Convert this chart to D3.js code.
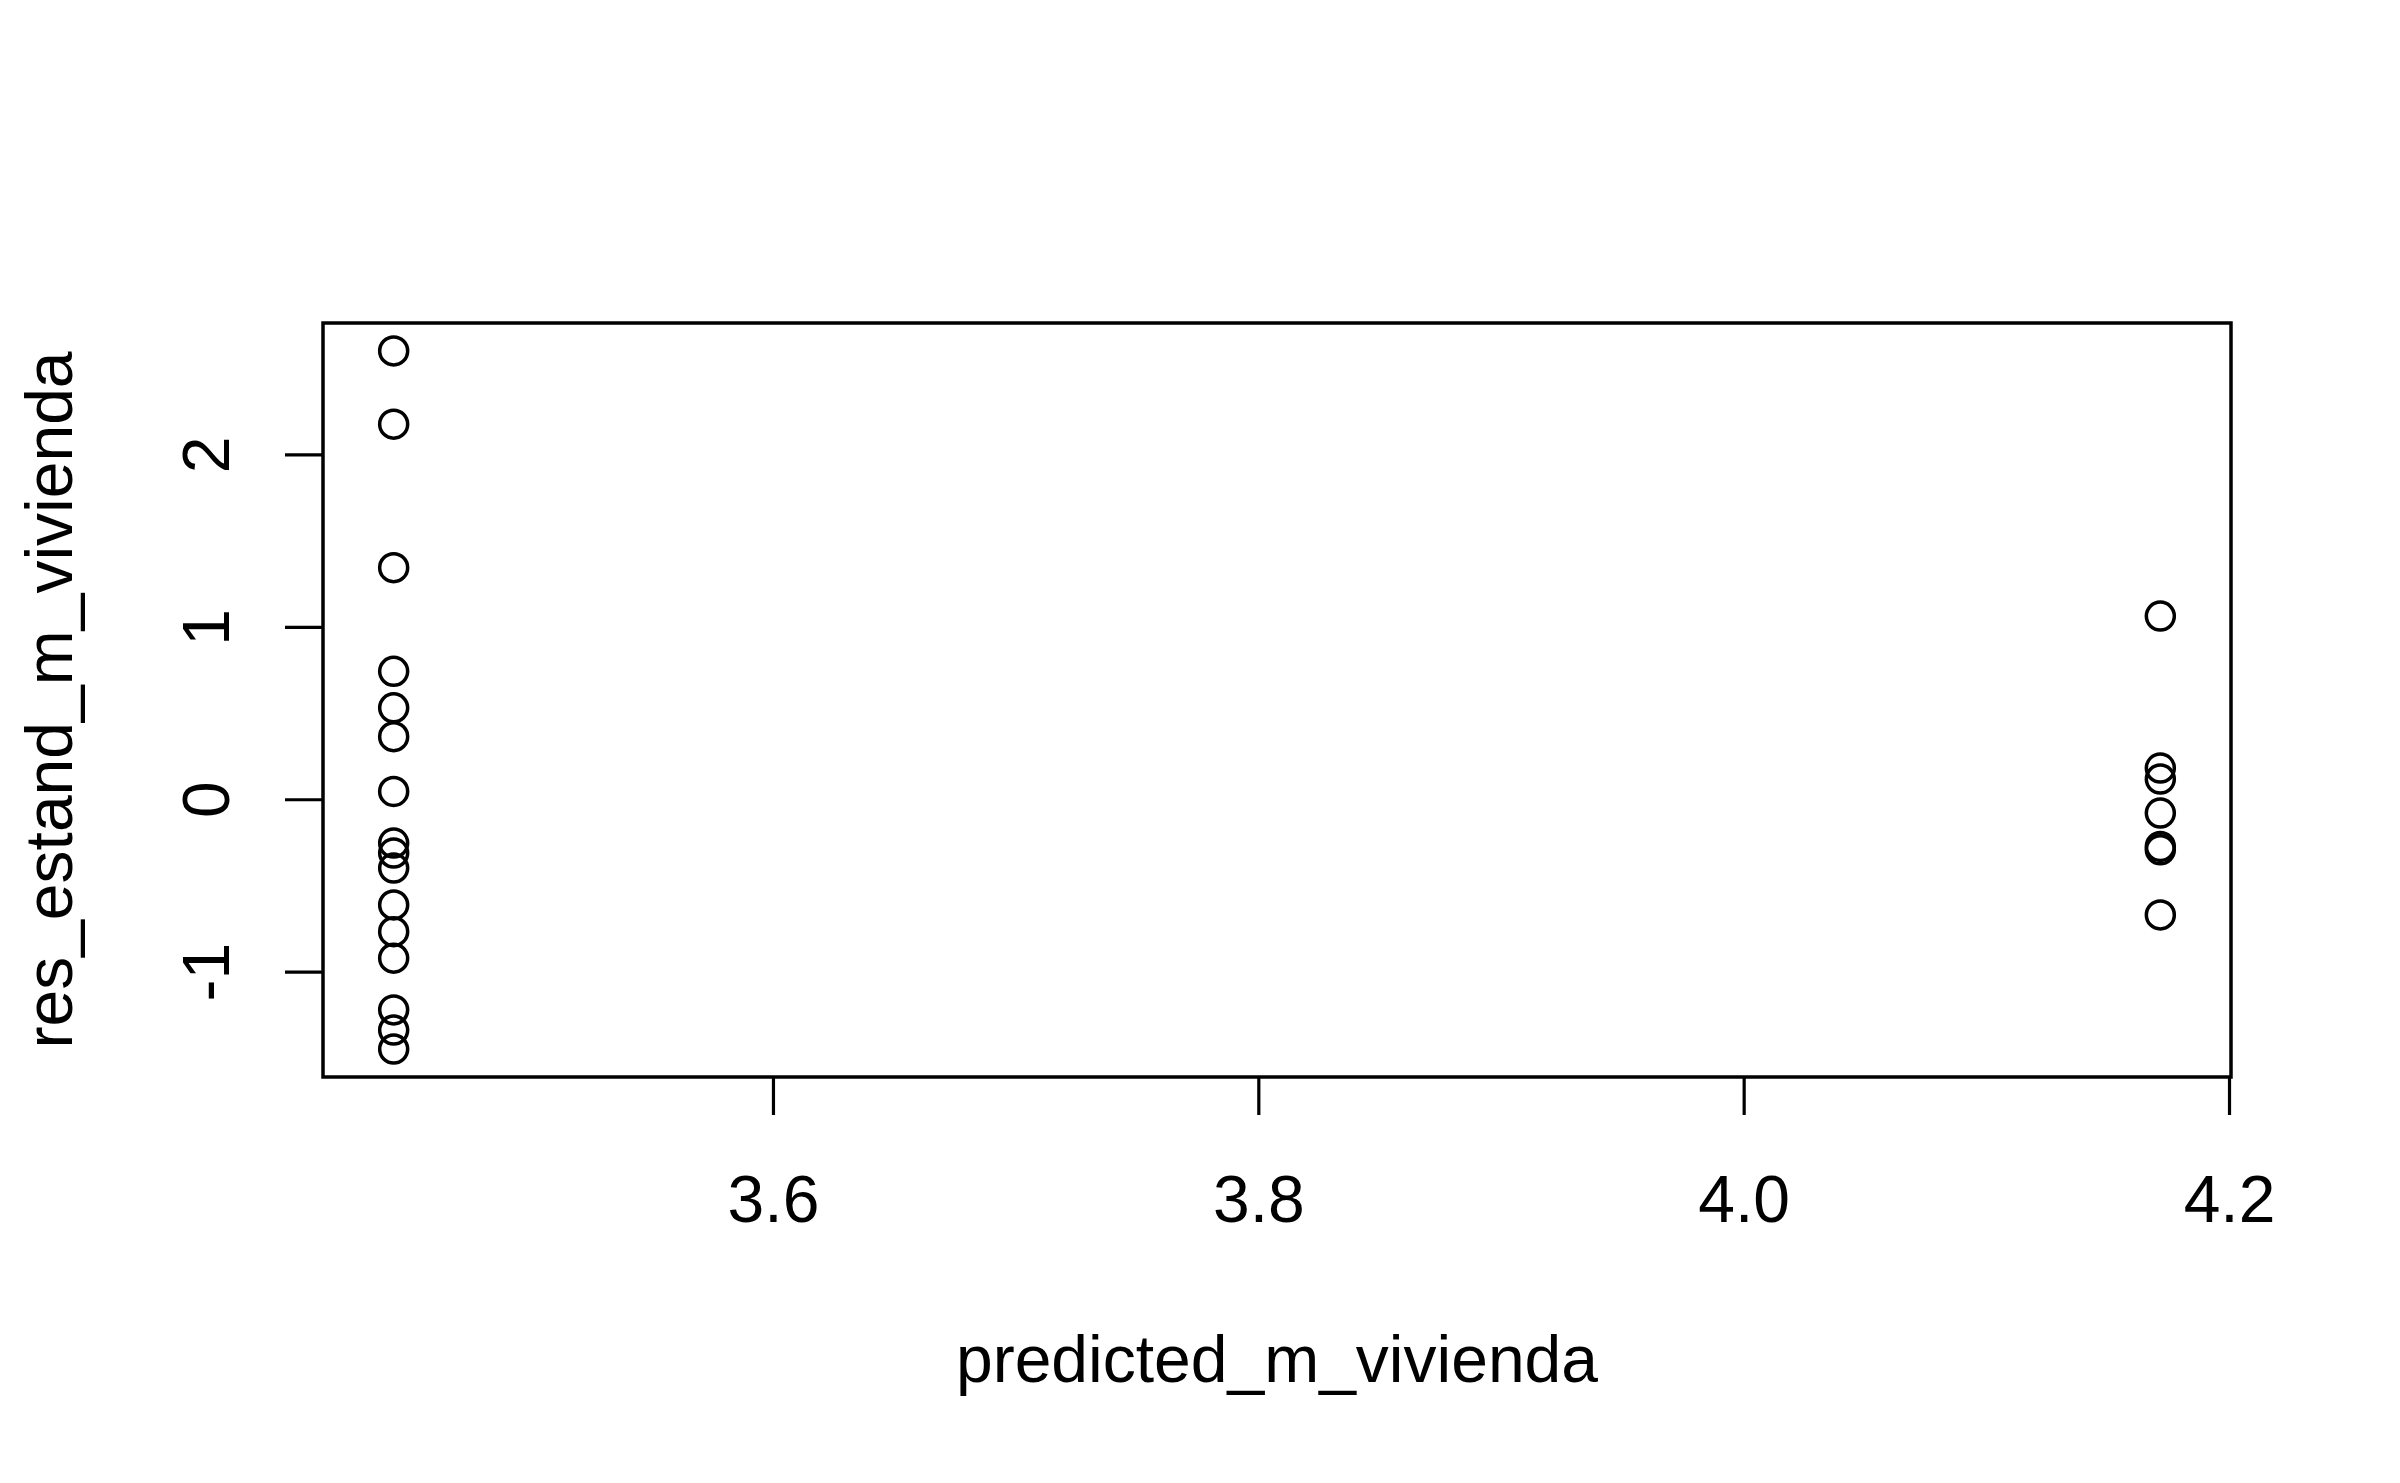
<!DOCTYPE html>
<html>
<head>
<meta charset="utf-8">
<script src="https://cdn.jsdelivr.net/npm/d3@7"></script>
<style>
  html, body { margin: 0; padding: 0; background: #ffffff; }
  svg { display: block; }
</style>
</head>
<body>
<script>
// ---- data ----
const predicted = [
  3.4437, 3.4437, 3.4437, 3.4437, 3.4437, 3.4437, 3.4437, 3.4437,
  3.4437, 3.4437, 3.4437, 3.4437, 3.4437, 3.4437, 3.4437, 3.4437,
  4.1717, 4.1717, 4.1717, 4.1717, 4.1717, 4.1717, 4.1717
];
const residuals = [
  2.600, 2.175, 1.343, 0.742, 0.530, 0.363, 0.045, -0.254,
  -0.312, -0.399, -0.613, -0.768, -0.922, -1.222, -1.339, -1.449,
  1.062, 0.181, 0.117, -0.080, -0.274, -0.293, -0.671
];
const xTicks = [3.6, 3.8, 4.0, 4.2];
const yTicks = [-1, 0, 1, 2];
const xTitle = "predicted_m_vivienda";
const yTitle = "res_estand_m_vivienda";

// ---- layout ----
const W = 2400, H = 1483;
const plot = { left: 323, right: 2231, top: 323, bottom: 1077 };
const FONT = "'Liberation Sans', Arial, Helvetica, sans-serif";
const FS = 66;

function expand(ext) { const d = (ext[1] - ext[0]) * 0.04; return [ext[0] - d, ext[1] + d]; }

const x = d3.scaleLinear().domain(expand(d3.extent(predicted))).range([plot.left, plot.right]);
const y = d3.scaleLinear().domain(expand(d3.extent(residuals))).range([plot.bottom, plot.top]);

const svg = d3.select("body").append("svg").attr("width", W).attr("height", H);
svg.append("rect").attr("width", W).attr("height", H).attr("fill", "#ffffff");

// points
const pts = predicted.map((p, i) => ({ x: p, y: residuals[i] }));
svg.append("g").selectAll("circle").data(pts).join("circle")
  .attr("cx", d => x(d.x)).attr("cy", d => y(d.y)).attr("r", 14)
  .attr("fill", "none").attr("stroke", "#000").attr("stroke-width", 3.5);

// box
svg.append("rect")
  .attr("x", plot.left).attr("y", plot.top)
  .attr("width", plot.right - plot.left).attr("height", plot.bottom - plot.top)
  .attr("fill", "none").attr("stroke", "#000").attr("stroke-width", 3.5);

// x axis
const gx = svg.append("g").attr("transform", `translate(0,${plot.bottom})`)
  .call(d3.axisBottom(x).tickValues(xTicks).tickFormat(d3.format(".1f")).tickSize(38).tickSizeOuter(0));
gx.select(".domain").remove();
gx.selectAll(".tick line").attr("stroke", "#000").attr("stroke-width", 3.2);
gx.selectAll(".tick text")
  .attr("y", 145).attr("dy", 0)
  .attr("font-family", FONT).attr("font-size", FS).attr("fill", "#000");

// y axis
const gy = svg.append("g").attr("transform", `translate(${plot.left},0)`)
  .call(d3.axisLeft(y).tickValues(yTicks).tickFormat(d => String(d)).tickSize(38).tickSizeOuter(0));
gy.select(".domain").remove();
gy.selectAll(".tick line").attr("stroke", "#000").attr("stroke-width", 3.2);
gy.selectAll(".tick text")
  .attr("x", 0).attr("y", 0).attr("dy", 0)
  .attr("text-anchor", "middle")
  .attr("transform", `translate(${229 - plot.left},0) rotate(-90)`)
  .attr("font-family", FONT).attr("font-size", FS).attr("fill", "#000");

// axis titles
svg.append("text")
  .attr("x", (plot.left + plot.right) / 2).attr("y", 1382)
  .attr("text-anchor", "middle")
  .attr("font-family", FONT).attr("font-size", FS).attr("fill", "#000")
  .text(xTitle);

svg.append("text")
  .attr("transform", `translate(72,${(plot.top + plot.bottom) / 2}) rotate(-90)`)
  .attr("text-anchor", "middle")
  .attr("font-family", FONT).attr("font-size", FS).attr("fill", "#000")
  .text(yTitle);
</script>
</body>
</html>
